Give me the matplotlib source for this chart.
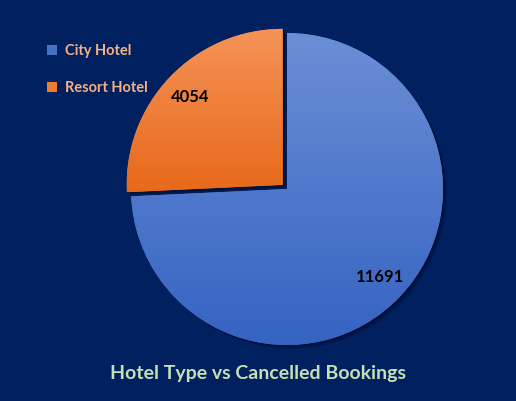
import numpy as np
import matplotlib.pyplot as plt
from matplotlib.colors import LinearSegmentedColormap

hotel_types = ['City Hotel', 'Resort Hotel']
cancelled = [11691, 4054]
base_colors = ['#4472C4', '#ED7D31']
gradients = [('#6B8FD6', '#3563C2'), ('#F59358', '#E8691A')]

W, H = 516, 401
bg = '#002060'

fig = plt.figure(figsize=(W / 100, H / 100), dpi=100)
fig.patch.set_facecolor(bg)
ax = fig.add_axes([0, 0, 1, 1])
ax.set_facecolor(bg)

center = (287, 212)
radius = 156
explode = [0, 6]  # pie explode is in data units here
total = sum(cancelled)

# soft shadow under the slices
for k in range(1, 6):
    ax.pie(cancelled, startangle=90, counterclock=False, explode=explode,
           center=(center[0] + k * 0.8, center[1] - k * 0.8), radius=radius,
           colors=['#000a25'] * 2, wedgeprops=dict(alpha=0.18, linewidth=0))

wedges, texts, autotexts = ax.pie(
    cancelled, startangle=90, counterclock=False, explode=explode,
    center=center, radius=radius, colors=base_colors,
    autopct=lambda p: f'{round(p * total / 100)}', pctdistance=0.82,
    wedgeprops=dict(linewidth=0),
    textprops=dict(color='black', fontsize=12, fontweight='bold', family='Lato'))

# vertical gradient fill clipped to each wedge
for w, (top, bottom) in zip(wedges, gradients):
    cmap = LinearSegmentedColormap.from_list('g', [bottom, top])
    x0, y0, x1, y1 = w.get_path().get_extents(w.get_patch_transform()).extents
    grad = np.linspace(0, 1, 256).reshape(-1, 1)
    im = ax.imshow(grad, cmap=cmap, origin='lower', aspect='auto',
                   extent=[x0, x1, y0, y1], zorder=w.get_zorder() + 0.1)
    im.set_clip_path(w)

for t in autotexts:
    t.set_zorder(5)

ax.set_xlim(0, W)
ax.set_ylim(0, H)
ax.set_aspect('equal')
ax.axis('off')

leg = ax.legend(wedges, hotel_types, loc='upper left', bbox_to_anchor=(34 / W, 1 - 31 / H),
                frameon=False, labelcolor='#F4B183', handlelength=0.7, handleheight=0.7,
                handletextpad=0.5, labelspacing=1.55,
                prop=dict(family='Lato', weight='bold', size=10.5))

fig.text(0.5, 1 - 373 / H, 'Hotel Type vs Cancelled Bookings', ha='center', va='center',
         color='#C5E0B4', fontsize=14, fontweight='bold', family='Lato')

fig.savefig('out.png', dpi=100, facecolor=bg)
